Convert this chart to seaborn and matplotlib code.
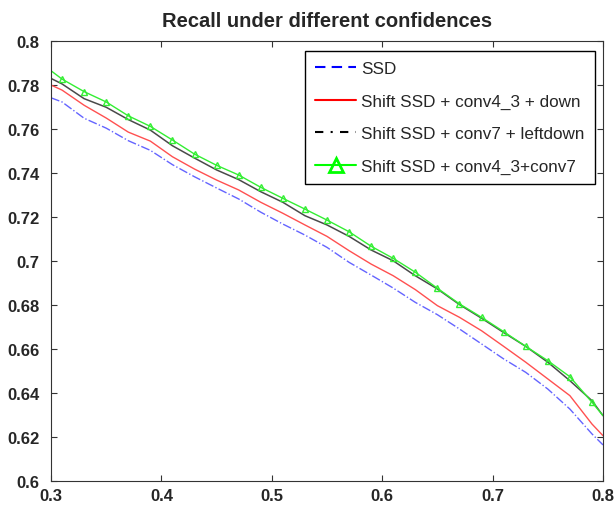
import matplotlib
matplotlib.use("Agg")
import matplotlib.pyplot as plt
from matplotlib.lines import Line2D
import seaborn as sns

# ------------------------------------------------ datos ------------------------------------------------

confidence = [0.30, 0.31, 0.33, 0.35, 0.37, 0.39, 0.41, 0.43, 0.45, 0.47, 0.49, 0.51, 0.53,
              0.55, 0.57, 0.59, 0.61, 0.63, 0.65, 0.67, 0.69, 0.71, 0.73, 0.75, 0.77, 0.79, 0.80]

recall_ssd = [0.7742, 0.7723, 0.7649, 0.7604, 0.7547, 0.7503, 0.7438, 0.7383, 0.7332, 0.7282,
              0.7222, 0.7168, 0.7118, 0.7062, 0.6994, 0.6936, 0.6877, 0.6812, 0.6756, 0.6691,
              0.6623, 0.6555, 0.6494, 0.6418, 0.6327, 0.6214, 0.6164]

recall_down = [0.7800, 0.7777, 0.7708, 0.7650, 0.7586, 0.7545, 0.7474, 0.7418, 0.7368, 0.7323,
               0.7267, 0.7217, 0.7164, 0.7112, 0.7047, 0.6986, 0.6933, 0.6870, 0.6797, 0.6744,
               0.6683, 0.6612, 0.6540, 0.6464, 0.6388, 0.6259, 0.6206]

recall_leftdown = [0.7830, 0.7805, 0.7738, 0.7699, 0.7643, 0.7595, 0.7524, 0.7468, 0.7414, 0.7370,
                   0.7315, 0.7267, 0.7206, 0.7164, 0.7112, 0.7050, 0.7001, 0.6933, 0.6873, 0.6802,
                   0.6740, 0.6675, 0.6612, 0.6540, 0.6456, 0.6365, 0.6297]

recall_both = [0.7865, 0.7827, 0.7770, 0.7723, 0.7660, 0.7612, 0.7550, 0.7486, 0.7435, 0.7391,
               0.7335, 0.7285, 0.7236, 0.7186, 0.7133, 0.7067, 0.7012, 0.6949, 0.6876, 0.6805,
               0.6744, 0.6679, 0.6612, 0.6547, 0.6474, 0.6358, 0.6297]

labels = ["SSD",
          "Shift SSD + conv4_3 + down",
          "Shift SSD + conv7 + leftdown",
          "Shift SSD + conv4_3+conv7"]

x_ticks = [0.3, 0.4, 0.5, 0.6, 0.7, 0.8]
y_ticks = [0.6, 0.62, 0.64, 0.66, 0.68, 0.7, 0.72, 0.74, 0.76, 0.78, 0.8]

# ------------------------------------------------ figura -----------------------------------------------

sns.set_style("ticks")
plt.rcParams['font.family'] = ['Liberation Sans', 'DejaVu Sans']

fig = plt.figure(figsize=(6.15, 5.10), dpi=100)
ax = fig.add_axes([0.0829, 0.0549, 0.8976, 0.8627])

sns.lineplot(x=confidence, y=recall_ssd, ax=ax, color='#6464ff', lw=1, linestyle='-.')
sns.lineplot(x=confidence, y=recall_down, ax=ax, color='#ff5050', lw=1)
sns.lineplot(x=confidence, y=recall_leftdown, ax=ax, color='#4a4a4a', lw=1.1)
sns.lineplot(x=confidence, y=recall_both, ax=ax, color='#33ee33', lw=1,
             marker='^', markevery=list(range(1, len(confidence) - 1)), markersize=5,
             markerfacecolor='none', markeredgecolor='#33ee33', markeredgewidth=1)

ax.set_xlim(0.3, 0.8)
ax.set_ylim(0.6, 0.8)
ax.set_xticks(x_ticks, labels=[f"{t:g}" for t in x_ticks], fontsize=12, fontweight='bold')
ax.set_yticks(y_ticks, labels=[f"{t:g}" for t in y_ticks], fontsize=12, fontweight='bold')
ax.tick_params(direction='in', top=True, right=True, length=4, width=0.8, color='#333333')
ax.tick_params(axis='x', pad=5)
ax.tick_params(axis='y', pad=8)
for s in ax.spines.values():
    s.set_color('#333333')
    s.set_linewidth(0.8)

ax.set_title("Recall under different confidences", fontsize=14.5, fontweight='bold', pad=11)

# ------------------------------------------------ leyenda ----------------------------------------------

handles = [
    Line2D([], [], color='#0000ff', lw=1.5, dashes=(5, 3)),
    Line2D([], [], color='#ff0000', lw=1.5),
    Line2D([], [], color='black', lw=1.5, dashes=(4, 3.5, 1, 3.5)),
    Line2D([], [], color='#00ff00', lw=1.5, marker='^', markersize=10,
           markerfacecolor='none', markeredgecolor='#00ff00', markeredgewidth=2),
]
leg = ax.legend(handles, labels, loc='upper right', bbox_to_anchor=(0.9855, 0.977),
                borderaxespad=0, fontsize=12.3, frameon=True, fancybox=False,
                edgecolor='black', framealpha=1, labelspacing=1.02, borderpad=0.6,
                handlelength=2.4, handletextpad=0.3)
leg.get_frame().set_linewidth(1.0)

fig.savefig("out.png", dpi=100)
